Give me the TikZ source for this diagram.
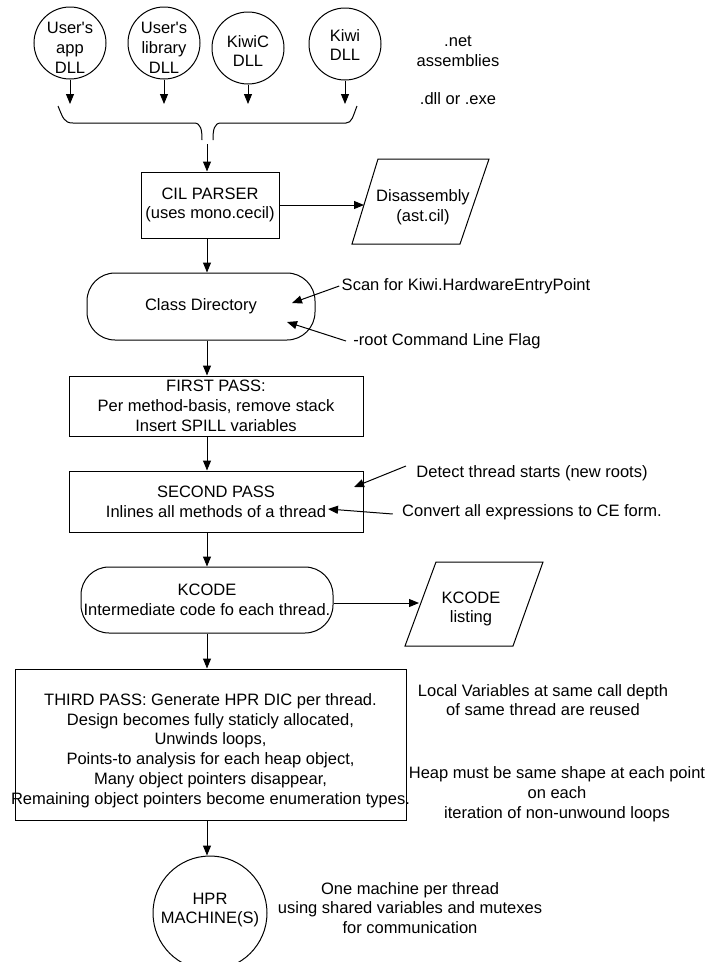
\documentclass[tikz,border=0pt]{standalone}
\usepackage{fontspec}
\newfontfamily\arial{Liberation Sans}
\usetikzlibrary{arrows.meta}
\begin{document}
\begin{tikzpicture}[x=1pt,y=-1pt,
  every node/.style={font=\arial\fontsize{16.5}{19.8}\selectfont, align=center, inner sep=0pt},
  line width=1pt,
  arr/.style={-{Triangle[length=10pt,width=8pt]}},
  dll/.style={draw, circle, minimum size=72pt},
  box/.style={draw, rectangle},
  rbox/.style={draw, rectangle, rounded corners=28pt},
]
\useasboundingbox (0,0) rectangle (711,962);
\coordinate (col) at (207,0);
\coordinate (brtop) at (0,104);

% input assemblies
\node[dll, label={[yshift=-5pt]center:{User's\\app\\DLL}}] (c1) at (70,43) {};
\node[dll, label={[yshift=-5pt]center:{User's\\library\\DLL}}] (c2) at (164,43) {};
\node[dll, label={[yshift=-3pt]center:{KiwiC\\DLL}}] (c3) at (248,48) {};
\node[dll, label={[yshift=-1pt]center:{Kiwi\\DLL}}] (c4) at (345,44) {};
\foreach \c in {c1,c2,c3,c4}
  \draw[arr] (\c.south) -- (\c.south |- brtop);

\node (net) at (458,51) {.net\\assemblies};
\node (dllexe) at (458,99) {.dll or .exe};

% brace
\draw (58,106) .. controls (63,118) and (64,123) .. (73,123) -- (194,123) .. controls (201,123) and (202,130) .. (202,140);
\draw (213,140) .. controls (213,130) and (214,123) .. (221,123) -- (346,123) .. controls (352,123) and (353,116) .. (357,106);
\coordinate (brtip) at (207,144);

% CIL parser
\node[box, minimum width=138pt, minimum height=66pt] (cil) at (210,205) {CIL PARSER\\(uses mono.cecil)};
\draw[arr] (brtip) -- (cil.north -| col);

% Disassembly
\draw (378,159) -- (489,159) -- (460,244) -- (352,244) -- cycle;
\node (dis) at (423,207) {Disassembly\\(ast.cil)};
\coordinate (disin) at (364,206);
\draw[arr] (cil.east) -- (cil.east -| disin);

% Class directory
\node[rbox, minimum width=228pt, minimum height=67pt] (cls) at (201,306.5) {Class Directory};
\draw[arr] (cil.south -| col) -- (cls.north -| col);
\node (scan) at (466,286) {Scan for Kiwi.HardwareEntryPoint};
\coordinate (scantip) at (292,303);
\draw[arr] ([xshift=-2pt]scan.west) -- (scantip);
\node (root) at (447,341) {-root Command Line Flag};
\coordinate (roottip) at (287,322);
\draw[arr] ([xshift=-7pt]root.west) -- (roottip);

% First pass
\node[box, minimum width=294pt, minimum height=60pt] (first) at (216,406) {FIRST PASS:\\Per method-basis, remove stack\\Insert SPILL variables};
\draw[arr] (cls.south -| col) -- (first.north -| col);

% Second pass
\node[box, minimum width=294pt, minimum height=61pt] (second) at (216,501.5) {SECOND PASS\\Inlines all methods of a thread};
\draw[arr] (first.south -| col) -- (second.north -| col);
\node (det) at (532,473) {Detect thread starts (new roots)};
\coordinate (dettip) at (354,487);
\draw[arr] ([xshift=-10pt,yshift=7pt]det.west) -- (dettip);
\node (conv) at (532,512) {Convert all expressions to CE form.};
\coordinate (convtip) at (328,509);
\draw[arr] ([xshift=-9pt,yshift=-2pt]conv.west) -- (convtip);

% KCODE
\node[rbox, minimum width=252pt, minimum height=66pt] (kcode) at (207,600) {KCODE\\Intermediate code fo each thread.};
\draw[arr] (second.south -| col) -- (kcode.north -| col);
\draw (436,562) -- (543,562) -- (513,646) -- (405,646) -- cycle;
\node (klist) at (471,609) {KCODE\\listing};
\coordinate (klin) at (419,603);
\draw[arr] (kcode.east |- klin) -- (klin);

% Third pass
\node[box, minimum width=391pt, minimum height=151pt,
  label={[yshift=-6pt]center:{THIRD PASS: Generate HPR DIC per thread.\\Design becomes fully staticly allocated,\\Unwinds loops,\\Points-to analysis for each heap object,\\Many object pointers disappear,\\Remaining object pointers become enumeration types.}}] (third) at (210.5,744.5) {};
\draw[arr] (kcode.south -| col) -- (third.north -| col);
\node (locv) at (543,700) {Local Variables at same call depth\\of same thread are reused};
\node (heap) at (557,794) {Heap must be same shape at each point\\on each\\iteration of non-unwound loops};

% HPR machines
\node[draw, circle, minimum size=114pt, label={[yshift=3pt]center:{HPR\\MACHINE(S)}}] (hpr) at (210,913) {};
\draw[arr] (third.south -| col) -- (hpr.north -| col);
\node (one) at (410,908) {One machine per thread\\using shared variables and mutexes\\for communication};
\end{tikzpicture}
\end{document}
